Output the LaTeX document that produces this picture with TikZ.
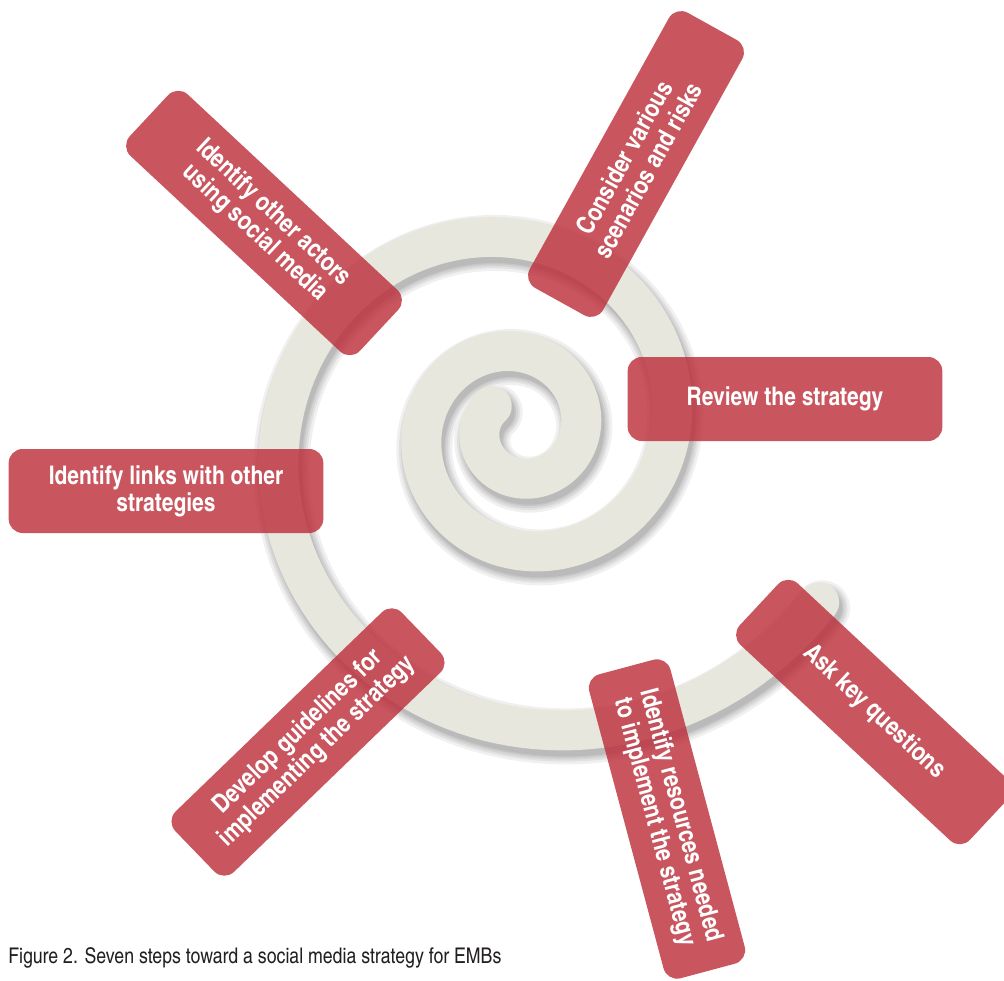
\documentclass[tikz,border=0pt]{standalone}
\usepackage{fontspec}
\newfontfamily\cnbold{texgyreheroscn-bold.otf}
\newfontfamily\cnreg{texgyreheroscn-regular.otf}
\definecolor{boxred}{RGB}{188,44,56}
\definecolor{spiralgrey}{RGB}{231,231,221}
\definecolor{captext}{RGB}{35,31,32}
\newcommand\drawspiral[1]{\draw[#1] plot[domain=-40:870,samples=400,variable=\s]
  ({519+39.3*exp(0.002506*\s)*cos(180-\s)},{429+39.3*exp(0.002506*\s)*sin(180-\s)});}
\begin{document}
\begin{tikzpicture}[x=0.75pt,y=-0.75pt,
  stepbox/.style={fill=boxred, fill opacity=0.8, text opacity=1, text=white,
    rounded corners=10.5pt, minimum width=236pt, minimum height=63pt,
    inner sep=0pt, align=center, font=\cnbold\fontsize{19.2}{20.3}\selectfont},
  spiralline/.style={line cap=round, line join=round, draw=spiralgrey, line width=30pt},
  shadowline/.style={line cap=round, line join=round, draw=black, draw opacity=0.06, line width=#1}]
\useasboundingbox (0,0) rectangle (1004,981);
\fill[white] (0,0) rectangle (1004,981);
% spiral shadow
\begin{scope}[shift={(3,6)}]
  \drawspiral{shadowline=42pt}
  \drawspiral{shadowline=38pt}
  \drawspiral{shadowline=35pt}
  \drawspiral{shadowline=32pt}
  \drawspiral{shadowline=30pt}
\end{scope}
% spiral
\drawspiral{spiralline}
% steps
\node[stepbox, rotate=-43] (actors) at (264,223) {Identify other actors\\using social media};
\node[stepbox, rotate=61] (scen) at (636,164) {Consider various\\scenarios and risks};
\node[stepbox] (review) at (785,399) {Review the strategy};
\node[stepbox] (links) at (166,491) {Identify links with other\\strategies};
\node[stepbox, rotate=44] (guide) at (308,742) {Develop guidelines for\\implementing the strategy};
\node[stepbox, rotate=-75] (res) at (667,819) {Identify resources needed\\to implement the strategy};
\node[stepbox, rotate=-43] (ask) at (874,712) {Ask key questions};
% caption
\node[anchor=base west, inner sep=0pt, text=captext, font=\cnreg\fontsize{16.2}{18}\selectfont] (caption) at (8,963) {Figure 2. Seven steps toward a social media strategy for EMBs};
\end{tikzpicture}
\end{document}
